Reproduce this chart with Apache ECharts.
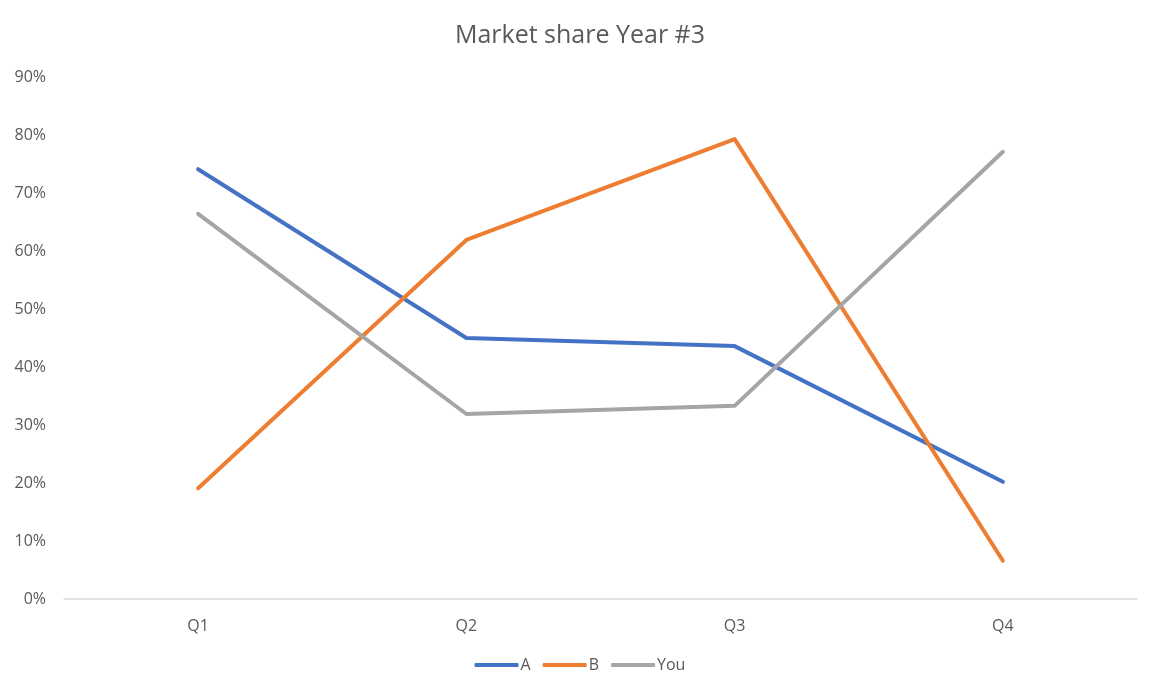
<!DOCTYPE html>
<html><head><meta charset="utf-8">
<script src="https://cdn.jsdelivr.net/npm/echarts@6/dist/echarts.min.js"></script>
<style>html,body{margin:0;padding:0;background:#fff}#c{width:1160px;height:695px}</style>
</head><body><div id="c"></div>
<script>
const categories = ['Q1','Q2','Q3','Q4'];
const seriesA = [74.1, 45.0, 43.6, 20.2];
const seriesB = [19.1, 61.9, 79.3, 6.6];
const seriesYou = [66.4, 31.9, 33.3, 77.1];
const chart = echarts.init(document.getElementById('c'));
const font = '"Open Sans", "Noto Sans", sans-serif';
function mk(name, data, color){
  return {name, type:'line', data, symbol:'none', smooth:false,
    lineStyle:{width:4, color, cap:'round', join:'round'}, itemStyle:{color}};
}
chart.setOption({
  animation:false,
  title:{text:'Market share Year #3', left:'center', top:18,
    textStyle:{fontFamily:font, fontSize:25, fontWeight:'normal', color:'#595959'}},
  grid:{left:64, right:23, top:77, bottom:96, containLabel:false},
  legend:{bottom:17, left:'center', itemWidth:44, itemHeight:4, itemGap:12,
    icon:'roundRect',
    textStyle:{fontFamily:font, fontSize:16, color:'#595959', padding:[0,0,0,-3]},
    data:['A','B','You']},
  xAxis:{type:'category', data:categories, boundaryGap:true,
    axisLine:{lineStyle:{color:'#d9d9d9', width:1.5}}, axisTick:{show:false},
    axisLabel:{fontFamily:font, fontSize:16, color:'#595959', margin:19}},
  yAxis:{type:'value', min:0, max:90, interval:10,
    axisLine:{show:false}, axisTick:{show:false}, splitLine:{show:false},
    axisLabel:{formatter:'{value}%', fontFamily:font, fontSize:16, color:'#595959', margin:18}},
  series:[mk('A',seriesA,'#4472C4'), mk('B',seriesB,'#ED7D31'), mk('You',seriesYou,'#A5A5A5')]
});
</script></body></html>
